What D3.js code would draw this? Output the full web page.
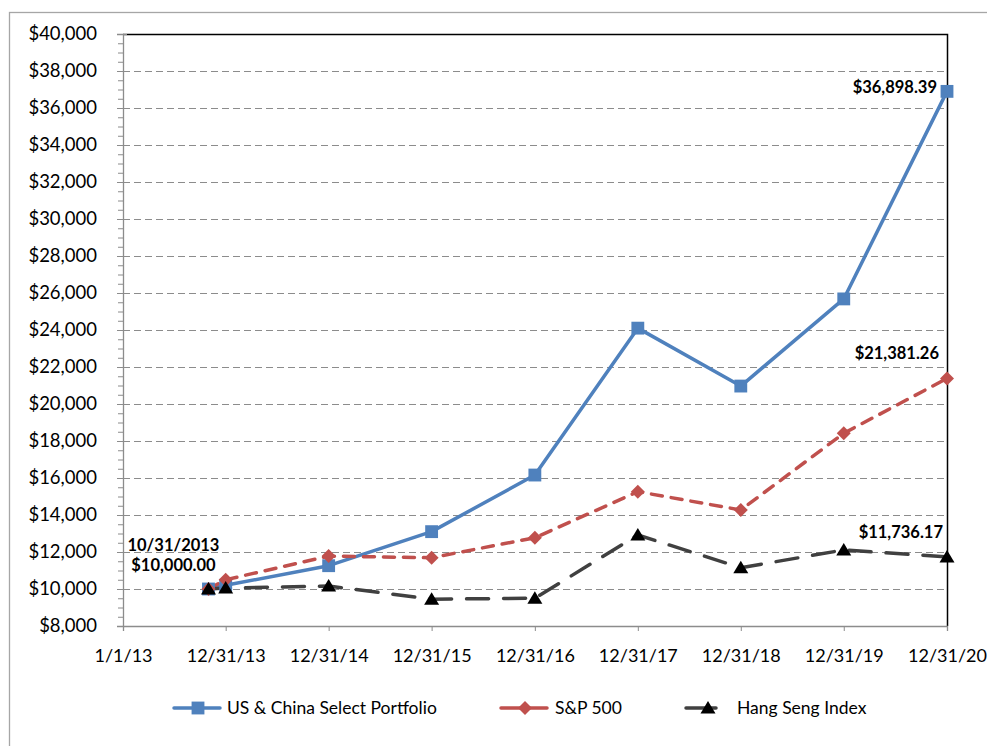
<!DOCTYPE html>
<html>
<head>
<meta charset="utf-8">
<script src="https://cdn.jsdelivr.net/npm/d3@7"></script>
<style>
  html, body { margin: 0; padding: 0; background: #fff; }
  svg text { font-family: Lato, "Open Sans", sans-serif; fill: #000; }
</style>
</head>
<body>
<svg id="chart" width="987" height="746"></svg>
<script>
// point dates and values
const pointDates = ["2013-10-31", "2013-12-31", "2014-12-31", "2015-12-31", "2016-12-31",
                    "2017-12-31", "2018-12-31", "2019-12-31", "2020-12-31"];
const usChina = [10000, 10200, 11260, 13100, 16160, 24100, 20970, 25680, 36898.39];
const sp500 = [10000, 10500, 11780, 11690, 12770, 15260, 14270, 18420, 21381.26];
const hangSeng = [10000, 10050, 10160, 9450, 9500, 12920, 11150, 12110, 11736.17];

const tickDates = ["2013-01-01", "2013-12-31", "2014-12-31", "2015-12-31", "2016-12-31",
                   "2017-12-31", "2018-12-31", "2019-12-31", "2020-12-31"];
const tickLabels = ["1/1/13", "12/31/13", "12/31/14", "12/31/15", "12/31/16",
                    "12/31/17", "12/31/18", "12/31/19", "12/31/20"];
const yTicks = d3.range(8000, 40001, 2000);
const yMinorTicks = d3.range(8000, 40001, 500);

const seriesNames = ["US & China Select Portfolio", "S&P 500", "Hang Seng Index"];

const parse = d3.utcParse("%Y-%m-%d");
const svg = d3.select("#chart");

let WIDTH = 987,
    HEIGHT = 746,
    MARGINS = {top: 34, right: 40, bottom: 120, left: 123};

let xScale = d3.scaleUtc()
        .domain([parse(tickDates[0]), parse(tickDates[tickDates.length - 1])])
        .range([MARGINS.left, WIDTH - MARGINS.right]),
    yScale = d3.scaleLinear()
        .domain([8000, 40000])
        .range([HEIGHT - MARGINS.bottom, MARGINS.top]);

// outer frame of the chart object
svg.append("rect")
    .attr("x", 9.5).attr("y", 12.5)
    .attr("width", 1000).attr("height", 760)
    .attr("fill", "none")
    .attr("stroke", "#a6a6a6")
    .attr("stroke-width", 1.3);

// top and right border of the plot area (solid black)
svg.append("path")
    .attr("d", "M" + MARGINS.left + "," + (MARGINS.top + 0.5) +
               "H" + (WIDTH - MARGINS.right + 0.5) +
               "V" + (HEIGHT - MARGINS.bottom))
    .attr("fill", "none")
    .attr("stroke", "#000")
    .attr("stroke-width", 1.5);

// horizontal dashed gridlines
svg.append("g")
    .selectAll("line")
    .data(yTicks.filter(d => d > 8000 && d < 40000))
    .enter().append("line")
    .attr("x1", MARGINS.left).attr("x2", WIDTH - MARGINS.right)
    .attr("y1", d => Math.round(yScale(d)) + 0.5)
    .attr("y2", d => Math.round(yScale(d)) + 0.5)
    .attr("stroke", "#8c8c8c")
    .attr("stroke-width", 1.2)
    .attr("stroke-dasharray", "7,4");

// y axis: minor ticks first, then major ticks with labels
let yMinor = d3.axisLeft(yScale).tickValues(yMinorTicks).tickSize(5).tickFormat("");
let yMinorG = svg.append("g")
    .attr("transform", "translate(" + MARGINS.left + ",0)")
    .call(yMinor);
yMinorG.select(".domain").remove();
yMinorG.selectAll("line").attr("stroke", "#8c8c8c");

let yAxis = d3.axisLeft(yScale)
    .tickValues(yTicks)
    .tickSize(6)
    .tickPadding(20)
    .tickFormat(d => "$" + d3.format(",")(d));
let yG = svg.append("g")
    .attr("transform", "translate(" + MARGINS.left + ",0)")
    .call(yAxis);
yG.select(".domain").attr("stroke", "#8c8c8c").attr("stroke-width", 1.3);
yG.selectAll(".tick line").attr("stroke", "#8c8c8c").attr("x2", 4).attr("x1", -6);
yG.selectAll("text").attr("font-size", 18.5).attr("font-family", "Lato");

// x axis
let xAxis = d3.axisBottom(xScale)
    .tickValues(tickDates.map(parse))
    .tickSize(5)
    .tickPadding(18)
    .tickFormat((d, i) => tickLabels[i]);
let xG = svg.append("g")
    .attr("transform", "translate(0," + (HEIGHT - MARGINS.bottom) + ")")
    .call(xAxis);
xG.select(".domain").attr("stroke", "#8c8c8c").attr("stroke-width", 1.3);
xG.selectAll(".tick line").attr("stroke", "#8c8c8c");
xG.selectAll("text").attr("font-size", 18).attr("font-family", "Lato");

// series
const series = [
    {name: seriesNames[0], values: usChina, color: "#4f81bd", dash: null, marker: "square"},
    {name: seriesNames[1], values: sp500, color: "#c0504d", dash: "11,9", marker: "diamond"},
    {name: seriesNames[2], values: hangSeng, color: "#404040", dash: "22,15", marker: "triangle"}
];

const markerPath = {
    square: d3.symbol().type(d3.symbolSquare).size(165)(),
    diamond: "M0,-7L7,0L0,7L-7,0Z",
    triangle: "M0,-7L7.5,5.5L-7.5,5.5Z"
};
const markerFill = {square: "#4f81bd", diamond: "#c0504d", triangle: "#000"};

let lineGen = d3.line()
    .x((d, i) => xScale(parse(pointDates[i])))
    .y(d => yScale(d));

series.forEach((s) => {
    svg.append("path")
        .attr("d", lineGen(s.values))
        .attr("fill", "none")
        .attr("stroke", s.color)
        .attr("stroke-width", 3.5)
        .attr("stroke-linecap", s.dash ? "round" : "butt")
        .attr("stroke-linejoin", "round")
        .attr("stroke-dasharray", s.dash);
});

// markers drawn after all lines
series.forEach((s) => {
    svg.append("g")
        .selectAll("path")
        .data(s.values)
        .enter().append("path")
        .attr("d", markerPath[s.marker])
        .attr("transform", (d, i) => "translate(" + xScale(parse(pointDates[i])) + "," + yScale(d) + ")")
        .attr("fill", markerFill[s.marker]);
});

// data labels
const last = pointDates.length - 1;
const fmt = d => "$" + d3.format(",.2f")(d);
function label(txt, x, y, anchor) {
    svg.append("text")
        .attr("x", x).attr("y", y)
        .attr("text-anchor", anchor)
        .attr("font-size", 16.5)
        .attr("font-weight", "bold")
        .text(txt);
}
let xEnd = xScale(parse(pointDates[last]));
label(fmt(usChina[last]), xEnd - 10, yScale(usChina[last]) + 2, "end");
label(fmt(sp500[last]), xEnd - 8, yScale(sp500[last]) - 19, "end");
label(fmt(hangSeng[last]), xEnd - 4, yScale(hangSeng[last]) - 19, "end");
let xStart = xScale(parse(pointDates[0]));
label("10/31/2013", xStart - 35, yScale(usChina[0]) - 38, "middle");
label(fmt(usChina[0]), xStart - 35, yScale(usChina[0]) - 18, "middle");

// legend
const legendX = [174, 501, 686];
const legendY = 708;
series.forEach((s, i) => {
    let g = svg.append("g").attr("transform", "translate(" + legendX[i] + "," + legendY + ")");
    let lineLen = i === 2 ? 30 : 46;
    g.append("line")
        .attr("x1", 0).attr("x2", lineLen)
        .attr("y1", 0).attr("y2", 0)
        .attr("stroke", s.color)
        .attr("stroke-width", 3.5)
        .attr("stroke-linecap", "round");
    g.append("path")
        .attr("d", markerPath[s.marker])
        .attr("transform", "translate(" + (i === 2 ? 22 : 24) + ",0)")
        .attr("fill", markerFill[s.marker]);
    g.append("text")
        .attr("x", [53, 54, 51][i])
        .attr("y", 6)
        .attr("font-size", 17.5)
        .text(s.name);
});
</script>
</body>
</html>
